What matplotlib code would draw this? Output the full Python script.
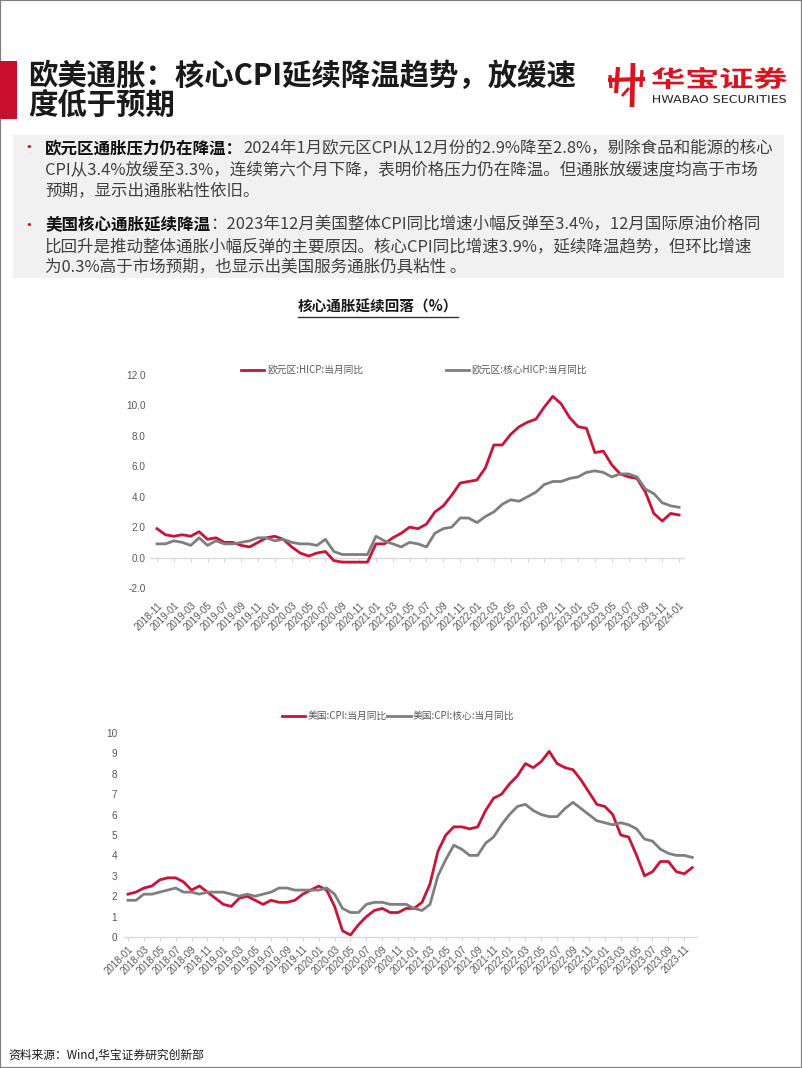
import matplotlib
matplotlib.use('Agg')
import matplotlib.pyplot as plt
import matplotlib.transforms as mtransforms
import pandas as pd
from matplotlib.lines import Line2D
from matplotlib.patches import Rectangle, PathPatch
from matplotlib.textpath import TextPath
from matplotlib.font_manager import FontProperties

plt.rcParams['font.family'] = ['Noto Sans CJK SC', 'DejaVu Sans']

# ---------------- data ----------------
ez_months = pd.date_range('2018-11-01', '2024-01-01', freq='MS').strftime('%Y-%m').tolist()
ez_hicp = [1.9, 1.5,
           1.4, 1.5, 1.4, 1.7, 1.2, 1.3, 1.0, 1.0, 0.8, 0.7, 1.0, 1.3,
           1.4, 1.2, 0.7, 0.3, 0.1, 0.3, 0.4, -0.2, -0.3, -0.3, -0.3, -0.3,
           0.9, 0.9, 1.3, 1.6, 2.0, 1.9, 2.2, 3.0, 3.4, 4.1, 4.9, 5.0,
           5.1, 5.9, 7.4, 7.4, 8.1, 8.6, 8.9, 9.1, 9.9, 10.6, 10.1, 9.2,
           8.6, 8.5, 6.9, 7.0, 6.1, 5.5, 5.3, 5.2, 4.3, 2.9, 2.4, 2.9,
           2.8]
ez_core = [0.9, 0.9,
           1.1, 1.0, 0.8, 1.3, 0.8, 1.1, 0.9, 0.9, 1.0, 1.1, 1.3, 1.3,
           1.1, 1.2, 1.0, 0.9, 0.9, 0.8, 1.2, 0.4, 0.2, 0.2, 0.2, 0.2,
           1.4, 1.1, 0.9, 0.7, 1.0, 0.9, 0.7, 1.6, 1.9, 2.0, 2.6, 2.6,
           2.3, 2.7, 3.0, 3.5, 3.8, 3.7, 4.0, 4.3, 4.8, 5.0, 5.0, 5.2,
           5.3, 5.6, 5.7, 5.6, 5.3, 5.5, 5.5, 5.3, 4.5, 4.2, 3.6, 3.4,
           3.3]
ez_labels = ['欧元区:HICP:当月同比', '欧元区:核心HICP:当月同比']
ez_yticks = [-2.0, 0.0, 2.0, 4.0, 6.0, 8.0, 10.0, 12.0]

us_months = pd.date_range('2018-01-01', '2023-12-01', freq='MS').strftime('%Y-%m').tolist()
us_cpi = [2.1, 2.2, 2.4, 2.5, 2.8, 2.9, 2.9, 2.7, 2.3, 2.5, 2.2, 1.9,
          1.6, 1.5, 1.9, 2.0, 1.8, 1.6, 1.8, 1.7, 1.7, 1.8, 2.1, 2.3,
          2.5, 2.3, 1.5, 0.3, 0.1, 0.6, 1.0, 1.3, 1.4, 1.2, 1.2, 1.4,
          1.4, 1.7, 2.6, 4.2, 5.0, 5.4, 5.4, 5.3, 5.4, 6.2, 6.8, 7.0,
          7.5, 7.9, 8.5, 8.3, 8.6, 9.1, 8.5, 8.3, 8.2, 7.7, 7.1, 6.5,
          6.4, 6.0, 5.0, 4.9, 4.0, 3.0, 3.2, 3.7, 3.7, 3.2, 3.1, 3.4]
us_core = [1.8, 1.8, 2.1, 2.1, 2.2, 2.3, 2.4, 2.2, 2.2, 2.1, 2.2, 2.2,
           2.2, 2.1, 2.0, 2.1, 2.0, 2.1, 2.2, 2.4, 2.4, 2.3, 2.3, 2.3,
           2.3, 2.4, 2.1, 1.4, 1.2, 1.2, 1.6, 1.7, 1.7, 1.6, 1.6, 1.6,
           1.4, 1.3, 1.6, 3.0, 3.8, 4.5, 4.3, 4.0, 4.0, 4.6, 4.9, 5.5,
           6.0, 6.4, 6.5, 6.2, 6.0, 5.9, 5.9, 6.3, 6.6, 6.3, 6.0, 5.7,
           5.6, 5.5, 5.6, 5.5, 5.3, 4.8, 4.7, 4.3, 4.1, 4.0, 4.0, 3.9]
us_labels = ['美国:CPI:当月同比', '美国:CPI:核心:当月同比']
us_yticks = list(range(0, 11))

page_title = ['欧美通胀：核心CPI延续降温趋势，放缓速', '度低于预期']
chart_title = '核心通胀延续回落（%）'
para1_head = '欧元区通胀压力仍在降温：'
para1_lines = ['2024年1月欧元区CPI从12月份的2.9%降至2.8%，剔除食品和能源的核心',
               'CPI从3.4%放缓至3.3%，连续第六个月下降，表明价格压力仍在降温。但通胀放缓速度均高于市场',
               '预期，显示出通胀粘性依旧。']
para2_head = '美国核心通胀延续降温'
para2_lines = ['：2023年12月美国整体CPI同比增速小幅反弹至3.4%，12月国际原油价格同',
               '比回升是推动整体通胀小幅反弹的主要原因。核心CPI同比增速3.9%，延续降温趋势，但环比增速',
               '为0.3%高于市场预期，也显示出美国服务通胀仍具粘性 。']
source_text = '资料来源：Wind,华宝证券研究创新部'

# ---------------- style ----------------
RED = '#cc1236'
GRAY = '#7f7f7f'
TXT = '#595959'
BODY = '#404040'
NUMFONT = ['Liberation Sans', 'DejaVu Sans']

W, H = 802, 1068
fig = plt.figure(figsize=(W / 100, H / 100), dpi=100)
renderer = fig.canvas.get_renderer()
PIX = mtransforms.Affine2D().scale(1.0 / W, 1.0 / H) + fig.transFigure  # pixel coords (origin bottom-left)


def fx(x):
    return x / W


def fy(y):
    return 1 - y / H


# page frame
fig.add_artist(Rectangle((0, 0), 1, 1, transform=fig.transFigure, fill=False,
                         edgecolor='#808080', lw=1.6))

# title bar and title
fig.add_artist(Rectangle((fx(0), fy(119)), fx(17), 58 / H, transform=fig.transFigure,
                         color='#c8102e', lw=0))
fig.text(fx(28), fy(76), page_title[0], fontsize=21.2, fontweight='bold', color='#1a1a1a',
         va='center', ha='left')
fig.text(fx(28), fy(105), page_title[1], fontsize=21.2, fontweight='bold', color='#1a1a1a',
         va='center', ha='left')


# logo
def fit_text_path(s, x0, y0, x1, y1, weight, color, family='Noto Sans CJK SC'):
    tp = TextPath((0, 0), s, size=20, prop=FontProperties(family=family, weight=weight))
    bb = tp.get_extents()
    tr = (mtransforms.Affine2D().translate(-bb.x0, -bb.y0)
          .scale((x1 - x0) / bb.width, (y1 - y0) / bb.height)
          .translate(x0, H - y1))
    fig.add_artist(PathPatch(tr.transform_path(tp), facecolor=color, edgecolor='none',
                             transform=PIX))


fit_text_path('华宝证券', 652, 67, 787, 89, 'bold', '#d7141f')
fit_text_path('HWABAO SECURITIES', 653, 95, 786, 103, 'normal', '#222222', family='DejaVu Sans')
for xs, ys, lw in [([608, 645], [80, 79], 3.0),
                   ([618, 616], [67, 93], 3.0),
                   ([633, 632], [63, 107], 3.4),
                   ([610, 611], [75, 88], 2.4),
                   ([642, 641], [70, 87], 2.4),
                   ([622, 629], [96, 88], 2.0)]:
    fig.add_artist(Line2D(xs, [H - v for v in ys], color='#d7141f', lw=lw,
                          transform=PIX, solid_capstyle='butt'))

# bullet box
fig.add_artist(Rectangle((fx(13), fy(278)), (784 - 13) / W, (278 - 135) / H,
                         transform=fig.transFigure, color='#f1f1f1', lw=0))


def put_para(y0, head, lines, step, size=11.9):
    fig.text(fx(20), fy(y0), '•', fontsize=12, color='#c8102e', va='center', ha='left')
    t = fig.text(fx(45), fy(y0), head, fontsize=size, fontweight='bold', color='#111111',
                 va='center', ha='left')
    bb = t.get_window_extent(renderer)
    fig.text(fx(45 + bb.width), fy(y0), lines[0], fontsize=size, color=BODY,
             va='center', ha='left')
    for k, ln in enumerate(lines[1:], start=1):
        fig.text(fx(45), fy(y0 + k * step), ln, fontsize=size, color=BODY,
                 va='center', ha='left')


put_para(148, para1_head, para1_lines, 21.5)
put_para(225, para2_head, para2_lines, 21.5)

# chart title
ct = fig.text(fx(378), fy(307), chart_title, fontsize=10.5, fontweight='bold',
              color='#1a1a1a', va='center', ha='center')
cbb = ct.get_window_extent(renderer)
fig.add_artist(Line2D([cbb.x0, cbb.x1], [H - 317, H - 317], color='#333333', lw=1.0,
                      transform=PIX))

# ---------------- chart 1: euro area ----------------
ax1 = fig.add_axes([fx(150), fy(588), (685 - 150) / W, (588 - 375) / H])
x1 = list(range(len(ez_months)))
ax1.plot(x1, ez_hicp, color=RED, lw=2.0, label=ez_labels[0], solid_joinstyle='round')
ax1.plot(x1, ez_core, color=GRAY, lw=2.0, label=ez_labels[1], solid_joinstyle='round')
ax1.set_xlim(-0.83, 62.7)
ax1.set_ylim(-2, 12)
for s in ax1.spines.values():
    s.set_visible(False)
ax1.axhline(0, color='#d9d9d9', lw=1.0, zorder=0)
tick_idx1 = x1[::2]
ax1.vlines(tick_idx1, -0.28, 0, color='#d9d9d9', lw=0.8, zorder=0)
ax1.set_xticks(tick_idx1)
ax1.set_xticklabels(ez_months[::2], rotation=45, ha='right', rotation_mode='anchor',
                    fontsize=7.0, color=TXT, family=NUMFONT)
ax1.tick_params(axis='x', length=0, pad=9)
ax1.set_yticks(ez_yticks)
ax1.set_yticklabels([f'{v:.1f}' for v in ez_yticks], fontsize=7.2, color=TXT, family=NUMFONT)
ax1.tick_params(axis='y', length=0, pad=3)
ax1.patch.set_alpha(0)
leg1 = ax1.legend(loc='center', bbox_to_anchor=(fx(414), fy(370)), bbox_transform=fig.transFigure,
                  ncol=2, frameon=False, fontsize=7, handlelength=2.4, handletextpad=0.25,
                  columnspacing=8.5, borderaxespad=0, borderpad=0)
for t in leg1.get_texts():
    t.set_color(TXT)

# ---------------- chart 2: US ----------------
ax2 = fig.add_axes([fx(124), fy(937), (697 - 124) / W, (937 - 733) / H])
x2 = list(range(len(us_months)))
ax2.plot(x2, us_cpi, color=RED, lw=2.0, label=us_labels[0], solid_joinstyle='round')
ax2.plot(x2, us_core, color=GRAY, lw=2.0, label=us_labels[1], solid_joinstyle='round')
ax2.set_xlim(-0.5, 71.6)
ax2.set_ylim(0, 10)
for k in ['top', 'right', 'left']:
    ax2.spines[k].set_visible(False)
ax2.spines['bottom'].set_color('#d9d9d9')
ax2.spines['bottom'].set_linewidth(1.0)
ax2.set_xticks(x2[::2])
ax2.set_xticklabels(us_months[::2], rotation=45, ha='right', rotation_mode='anchor',
                    fontsize=7.0, color=TXT, family=NUMFONT)
ax2.tick_params(axis='x', length=3, color='#d9d9d9', pad=2)
ax2.set_yticks(us_yticks)
ax2.set_yticklabels([str(v) for v in us_yticks], fontsize=7.2, color=TXT, family=NUMFONT)
ax2.tick_params(axis='y', length=0, pad=5)
ax2.patch.set_alpha(0)
leg2 = ax2.legend(loc='center', bbox_to_anchor=(fx(398), fy(716)), bbox_transform=fig.transFigure,
                  ncol=2, frameon=False, fontsize=7, handlelength=2.4, handletextpad=0.2,
                  columnspacing=0.1, borderaxespad=0, borderpad=0)
for t in leg2.get_texts():
    t.set_color(TXT)

# source
fig.text(fx(8), fy(1055), source_text, fontsize=8.5, color='#1a1a1a', va='center', ha='left')

fig.savefig('out.png', dpi=100)
